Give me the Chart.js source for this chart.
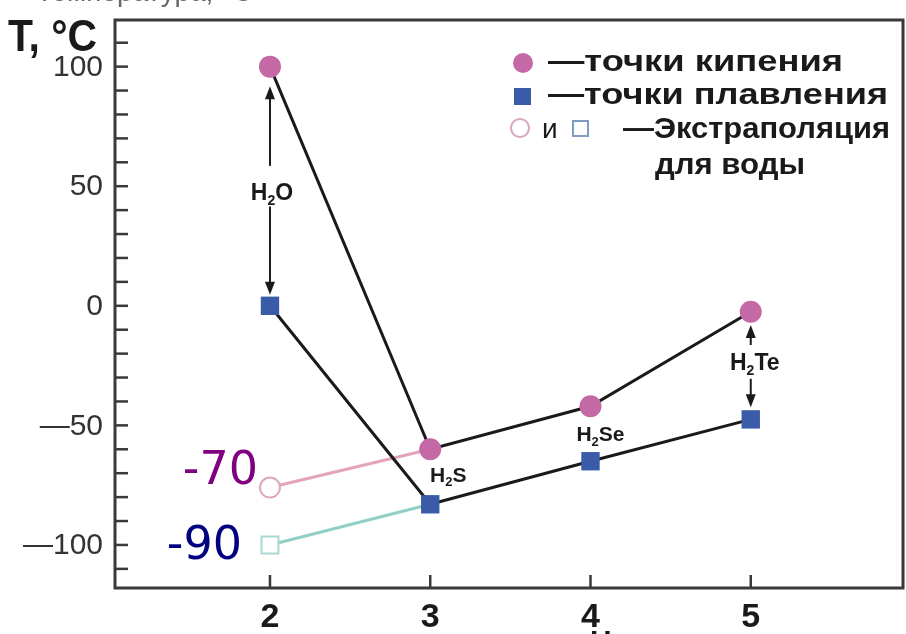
<!DOCTYPE html>
<html>
<head>
<meta charset="utf-8">
<script src="https://cdn.jsdelivr.net/npm/chart.js@4.4.1/dist/chart.umd.min.js"></script>
<style>
  html, body { margin: 0; padding: 0; background: #fff; }
  #wrap { width: 906px; height: 634px; position: relative; }
</style>
</head>
<body>
<div id="wrap"><canvas id="chart" width="906" height="634"></canvas></div>
<script>
// Period number of the element (O, S, Se, Te)
const periods = [2, 3, 4, 5];
const compounds = ['H2O', 'H2S', 'H2Se', 'H2Te'];
// Temperatures, °C
const boilingPoints = [100, -60, -42, -2.5];
const meltingPoints = [0, -83, -65, -47.5];
// Extrapolated values for water, joined to H2S
const extrapPeriods = [2, 3];
const extrapBoiling = [-76, -60];
const extrapMelting = [-100, -83];
// Axis labels
const yTickValues = [100, 50, 0, -50, -100];
const yTickLabels = ['100', '50', '0', '—50', '—100'];
const yMinorTicks = [-110, -100, -90, -80, -70, -60, -50, -40, -30, -20, -10, 0, 10, 20, 30, 40, 50, 60, 70, 80, 90, 100, 110];

const pts = (xs, ys) => xs.map((x, i) => ({ x: x, y: ys[i] }));
const FONT = '"Liberation Sans", Arial, sans-serif';

// Text squeezed or stretched to a target width
function fitText(ctx, text, x, y, width) {
  const w = ctx.measureText(text).width;
  ctx.save();
  ctx.translate(x, y);
  ctx.scale(width / w, 1);
  ctx.fillText(text, 0, 0);
  ctx.restore();
}

// Formula like H2O with subscript digit, centred at (cx, cy)
function drawFormula(ctx, formula, cx, cy, size) {
  const parts = formula.match(/[A-Z][a-z]?|\d/g);
  const big = 'bold ' + size + 'px ' + FONT;
  const small = 'bold ' + Math.round(size * 0.62) + 'px ' + FONT;
  let total = 0;
  parts.forEach(p => {
    ctx.font = /\d/.test(p) ? small : big;
    total += ctx.measureText(p).width;
  });
  let x = cx - total / 2;
  ctx.textBaseline = 'alphabetic';
  ctx.textAlign = 'left';
  parts.forEach(p => {
    const sub = /\d/.test(p);
    ctx.font = sub ? small : big;
    ctx.fillText(p, x, cy + size * 0.36 + (sub ? size * 0.22 : 0));
    x += ctx.measureText(p).width;
  });
}

function arrow(ctx, x, y1, y2) {
  // y2 is the tip
  const dir = y2 > y1 ? 1 : -1;
  ctx.beginPath();
  ctx.moveTo(x, y1);
  ctx.lineTo(x, y2 - dir * 8);
  ctx.stroke();
  ctx.beginPath();
  ctx.moveTo(x, y2);
  ctx.lineTo(x - 5, y2 - dir * 13);
  ctx.lineTo(x + 5, y2 - dir * 13);
  ctx.closePath();
  ctx.fill();
}

const framePlugin = {
  id: 'frame',
  beforeDatasetsDraw(chart) {
    const { ctx, chartArea: a, scales } = chart;
    ctx.save();
    ctx.strokeStyle = '#3a3a3a';
    ctx.lineWidth = 3;
    ctx.strokeRect(a.left, a.top, a.right - a.left, a.bottom - a.top);
    ctx.lineWidth = 2.5;
    // inward ticks on the left axis
    yMinorTicks.forEach(v => {
      const y = scales.y.getPixelForValue(v);
      ctx.beginPath();
      ctx.moveTo(a.left, y);
      ctx.lineTo(a.left + 13, y);
      ctx.stroke();
    });
    // inward ticks on the bottom axis
    periods.forEach(v => {
      const x = scales.x.getPixelForValue(v);
      ctx.beginPath();
      ctx.moveTo(x, a.bottom);
      ctx.lineTo(x, a.bottom - 13);
      ctx.stroke();
    });
    // tick labels
    ctx.fillStyle = '#333';
    ctx.font = '30px ' + FONT;
    ctx.textAlign = 'right';
    ctx.textBaseline = 'middle';
    yTickValues.forEach((v, i) => {
      ctx.fillText(yTickLabels[i], a.left - 12, scales.y.getPixelForValue(v) + 1);
    });
    ctx.fillStyle = '#1a1a1a';
    ctx.font = 'bold 34px ' + FONT;
    ctx.textAlign = 'center';
    periods.forEach(v => {
      ctx.fillText(String(v), scales.x.getPixelForValue(v), 618);
    });
    ctx.restore();
  },
  afterDraw(chart) {
    const { ctx, scales } = chart;
    const X = v => scales.x.getPixelForValue(v);
    const Y = v => scales.y.getPixelForValue(v);
    ctx.save();
    ctx.fillStyle = '#1a1a1a';
    ctx.strokeStyle = '#1a1a1a';
    ctx.lineWidth = 2;

    // cut-off axis titles
    ctx.fillStyle = '#666';
    ctx.font = '28px ' + FONT;
    ctx.textBaseline = 'alphabetic';
    ctx.fillText('Температура, °C', 36, 1);
    ctx.fillStyle = '#1a1a1a';
    ctx.font = 'bold 30px ' + FONT;
    ctx.textBaseline = 'top';
    ctx.fillText('Номер периода', 590, 628);

    // T, °C
    ctx.font = 'bold 44px ' + FONT;
    ctx.textBaseline = 'alphabetic';
    fitText(ctx, 'T, °C', 8, 51, 89);

    // compound labels and arrows
    drawFormula(ctx, compounds[0], X(2) + 2, Y(47.8), 23);
    arrow(ctx, X(2), Y(58.5), Y(91.8));
    arrow(ctx, X(2), Y(41.5), Y(4.6));
    drawFormula(ctx, compounds[1], X(3) + 18, Y(-70.4), 21);
    drawFormula(ctx, compounds[2], X(4) + 10, Y(-53.5), 21);
    drawFormula(ctx, compounds[3], X(5) + 4, Y(-23.5), 23);
    arrow(ctx, X(5), Y(-16.4), Y(-8));
    arrow(ctx, X(5), Y(-30.5), Y(-42.4));

    // extrapolated values
    ctx.font = '46px "DejaVu Sans", sans-serif';
    ctx.textAlign = 'right';
    ctx.textBaseline = 'middle';
    ctx.fillStyle = '#800080';
    ctx.fillText('-70', X(2) - 12, Y(-69.5));
    ctx.fillStyle = '#000080';
    ctx.fillText('-90', X(2) - 28, Y(-101));
    ctx.textAlign = 'left';

    // legend
    ctx.fillStyle = '#c468a6';
    ctx.beginPath();
    ctx.arc(523, 63, 10, 0, Math.PI * 2);
    ctx.fill();
    ctx.fillStyle = '#3a5ba8';
    ctx.fillRect(514, 88, 17, 17);
    ctx.strokeStyle = '#d7a3c0';
    ctx.lineWidth = 2;
    ctx.beginPath();
    ctx.arc(520, 128, 9, 0, Math.PI * 2);
    ctx.stroke();
    ctx.strokeStyle = '#7f9cc3';
    ctx.strokeRect(573, 121, 15, 15);
    ctx.fillStyle = '#1a1a1a';
    ctx.textBaseline = 'middle';
    ctx.font = 'bold 30px ' + FONT;
    fitText(ctx, '—точки кипения', 548, 63, 295);
    fitText(ctx, '—точки плавления', 548, 96, 340);
    fitText(ctx, '—Экстраполяция', 623, 130, 267);
    fitText(ctx, 'для воды', 655, 166, 150);
    ctx.font = '28px ' + FONT;
    ctx.fillText('и', 542, 130);
    ctx.restore();
  }
};

new Chart(document.getElementById('chart').getContext('2d'), {
  type: 'scatter',
  data: {
    datasets: [
      {
        data: pts(periods, boilingPoints),
        showLine: true,
        borderColor: '#1a1a1a',
        borderWidth: 3,
        pointStyle: 'circle',
        pointRadius: 11,
        pointBackgroundColor: '#c468a6',
        pointBorderColor: '#c468a6',
        pointBorderWidth: 0
      },
      {
        data: pts(periods, meltingPoints),
        showLine: true,
        borderColor: '#1a1a1a',
        borderWidth: 3,
        pointStyle: 'rect',
        pointRadius: 13,
        pointBackgroundColor: '#3a5ba8',
        pointBorderColor: '#3a5ba8',
        pointBorderWidth: 0
      },
      {
        data: pts(extrapPeriods, extrapBoiling),
        showLine: true,
        borderColor: '#e3a3bb',
        borderWidth: 3,
        pointStyle: 'circle',
        pointRadius: [10, 0],
        pointBackgroundColor: '#fff',
        pointBorderColor: '#dfa6bf',
        pointBorderWidth: 2
      },
      {
        data: pts(extrapPeriods, extrapMelting),
        showLine: true,
        borderColor: '#92cfc6',
        borderWidth: 3,
        pointStyle: 'rect',
        pointRadius: [12, 0],
        pointBackgroundColor: '#fff',
        pointBorderColor: '#a9d8d2',
        pointBorderWidth: 2
      }
    ]
  },
  options: {
    responsive: false,
    animation: false,
    layout: { autoPadding: false, padding: { left: 0, right: 3, top: 20, bottom: 0 } },
    plugins: {
      legend: { display: false },
      tooltip: { enabled: false }
    },
    scales: {
      x: {
        type: 'linear',
        min: 1.033,
        max: 5.95,
        grid: { display: false },
        border: { display: false },
        ticks: { display: false },
        afterFit: scale => {
          scale.height = 46;
          scale.paddingLeft = 0;
          scale.paddingRight = 0;
        }
      },
      y: {
        type: 'linear',
        min: -118,
        max: 119.5,
        grid: { display: false },
        border: { display: false },
        ticks: { display: false },
        afterFit: scale => {
          scale.width = 115;
          scale.paddingTop = 0;
          scale.paddingBottom = 0;
        }
      }
    }
  },
  plugins: [framePlugin]
});
</script>
</body>
</html>
